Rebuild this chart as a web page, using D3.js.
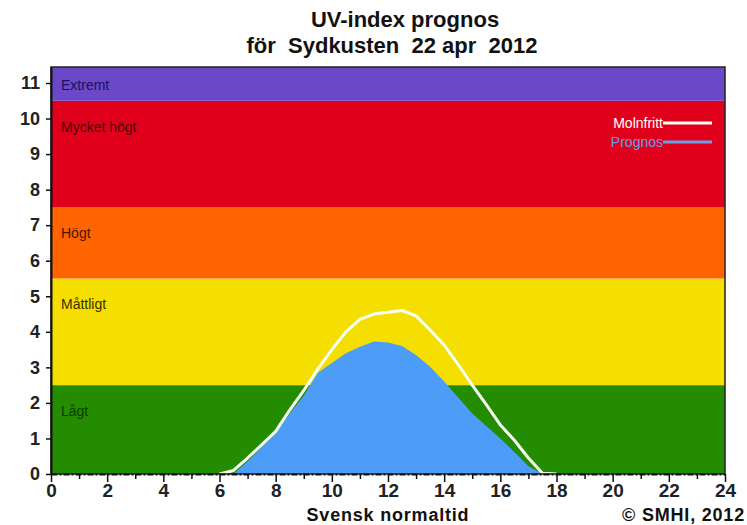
<!DOCTYPE html>
<html>
<head>
<meta charset="utf-8">
<script src="https://cdn.jsdelivr.net/npm/d3@7"></script>
<style>
  body { margin: 0; background: #fff; }
  svg { display: block; }
  .title { white-space: pre; }
</style>
</head>
<body>
<svg id="chart" width="747" height="525"></svg>
<script>
// UV-index levels
const bandNames = ['Lågt', 'Måttligt', 'Högt', 'Mycket högt', 'Extremt'];
const bandFrom = [0, 2.5, 5.5, 7.5, 10.5];
const bandTo = [2.5, 5.5, 7.5, 10.5, 11.45];

// hours (svensk normaltid)
const clearHours = [6, 6.5, 7, 7.5, 8, 8.5, 9, 9.5, 10, 10.5, 11, 11.5, 12, 12.5, 13, 13.5, 14, 14.5, 15, 15.5, 16, 16.5, 17, 17.5, 18];
const clearUv = [0, 0.1, 0.45, 0.82, 1.2, 1.8, 2.35, 2.95, 3.5, 4.0, 4.35, 4.5, 4.55, 4.6, 4.45, 4.05, 3.63, 3.08, 2.5, 1.95, 1.38, 0.95, 0.45, 0.02, 0];

const progHours = [6.5, 7, 7.5, 8, 8.5, 9, 9.5, 10, 10.5, 11, 11.5, 12, 12.5, 13, 13.5, 14, 14.5, 15, 15.5, 16, 16.5, 17, 17.5];
const progUv = [0, 0.35, 0.75, 1.15, 1.7, 2.2, 2.85, 3.12, 3.4, 3.58, 3.73, 3.7, 3.6, 3.35, 3.02, 2.6, 2.15, 1.7, 1.35, 1.0, 0.62, 0.22, 0];

const yTicks = d3.range(0, 12);
const xTicks = d3.range(0, 25);

const bandColors = ['#238c00', '#f5df00', '#ff6400', '#e0001c', '#6a48c8'];
const bandTextColors = ['#0d3d00', '#3a3000', '#4a1500', '#4a0008', '#1c1060'];

const svg = d3.select('#chart');
const x = d3.scaleLinear().domain([0, 24]).range([51, 725]);
const y = d3.scaleLinear().domain([0, 11.45]).range([474, 67]);

// title
const title = svg.append('text')
  .classed('title', true)
  .attr('text-anchor', 'middle')
  .attr('font-family', '"Liberation Sans Narrow", "Arial Narrow", "Liberation Sans", sans-serif')
  .attr('font-weight', 'bold')
  .attr('font-size', 22)
  .attr('fill', '#111');
title.append('tspan').attr('x', 405).attr('y', 27).text('UV-index prognos');
title.append('tspan').attr('x', 392).attr('y', 53).text('för  Sydkusten  22 apr  2012');

// bands
const bands = bandNames.map((name, i) => ({ name, from: bandFrom[i], to: bandTo[i], i }));

svg.append('g').selectAll('rect')
  .data(bands)
  .join('rect')
  .attr('x', x(0))
  .attr('width', x(24) - x(0))
  .attr('y', d => y(d.to))
  .attr('height', d => y(d.from) - y(d.to))
  .attr('fill', d => bandColors[d.i]);

svg.append('g').selectAll('text')
  .data(bands)
  .join('text')
  .attr('x', x(0) + 10)
  .attr('y', d => y(Math.min(d.to, 10.5)) + (d.i === 4 ? -11 : 31))
  .attr('font-family', '"Liberation Sans", Arial, sans-serif')
  .attr('font-size', 14)
  .attr('fill', d => bandTextColors[d.i])
  .text(d => d.name);

// prognos area
const area = d3.area()
  .x((d, i) => x(progHours[i]))
  .y0(y(0))
  .y1(d => y(d));

svg.append('path')
  .datum(progUv)
  .attr('d', area)
  .attr('fill', '#4d9cf8');

// molnfritt line
const line = d3.line()
  .x((d, i) => x(clearHours[i]))
  .y(d => y(d));

svg.append('path')
  .datum(clearUv)
  .attr('d', line)
  .attr('fill', 'none')
  .attr('stroke', '#f6fff2')
  .attr('stroke-width', 3)
  .attr('stroke-linejoin', 'round');

// frame
svg.append('rect')
  .attr('x', x(0))
  .attr('y', y(11.45))
  .attr('width', x(24) - x(0))
  .attr('height', y(0) - y(11.45))
  .attr('fill', 'none')
  .attr('stroke', '#222')
  .attr('stroke-width', 1.5);

// axes
const yAxis = svg.append('g')
  .attr('transform', `translate(${x(0)},0)`)
  .call(d3.axisLeft(y).tickValues(yTicks).tickSize(5).tickSizeOuter(0).tickPadding(6));

yAxis.select('.domain').attr('stroke', '#111').attr('stroke-width', 2);
yAxis.selectAll('.tick line').attr('stroke', '#111').attr('stroke-width', 1.5);
yAxis.selectAll('.tick text')
  .attr('font-family', '"Liberation Sans", Arial, sans-serif')
  .attr('font-weight', 'bold')
  .attr('font-size', 18)
  .attr('fill', '#222');

const xAxis = svg.append('g')
  .attr('transform', `translate(0,${y(0)})`)
  .call(d3.axisBottom(x).tickValues(xTicks).tickSize(8).tickSizeOuter(0).tickPadding(2)
    .tickFormat(d => (d % 2 ? '' : d)));

xAxis.select('.domain')
  .attr('stroke', '#111')
  .attr('stroke-width', 2)
  .attr('stroke-dasharray', '6,2,2,2');
xAxis.selectAll('.tick line')
  .attr('stroke', '#111')
  .attr('stroke-width', 1.5)
  .attr('y2', d => (d % 2 ? 5 : 8));
xAxis.selectAll('.tick text')
  .attr('font-family', '"Liberation Sans", Arial, sans-serif')
  .attr('font-weight', 'bold')
  .attr('font-size', 19)
  .attr('fill', '#222');

svg.append('text')
  .attr('x', 388)
  .attr('y', 521)
  .attr('text-anchor', 'middle')
  .attr('font-family', '"Liberation Sans", Arial, sans-serif')
  .attr('font-weight', 'bold')
  .attr('font-size', 18)
  .attr('letter-spacing', 0.8)
  .attr('fill', '#111')
  .text('Svensk normaltid');

svg.append('text')
  .attr('x', 745)
  .attr('y', 521)
  .attr('text-anchor', 'end')
  .attr('font-family', '"Liberation Sans", Arial, sans-serif')
  .attr('font-weight', 'bold')
  .attr('font-size', 18)
  .attr('letter-spacing', 0.8)
  .attr('fill', '#111')
  .text('© SMHI, 2012');

// legend
const legendNames = ['Molnfritt', 'Prognos'];
const legendColors = ['#f6fff2', '#6a9ee6'];
const legend = svg.append('g').selectAll('g')
  .data(legendNames)
  .join('g')
  .attr('transform', (d, i) => `translate(0,${128 + i * 19})`);

legend.append('text')
  .attr('x', 663)
  .attr('text-anchor', 'end')
  .attr('font-family', '"Liberation Sans", Arial, sans-serif')
  .attr('font-size', 14)
  .attr('fill', (d, i) => legendColors[i])
  .text(d => d);

legend.append('line')
  .attr('x1', 663)
  .attr('x2', 712)
  .attr('y1', -5)
  .attr('y2', -5)
  .attr('stroke', (d, i) => legendColors[i])
  .attr('stroke-width', 3);
</script>
</body>
</html>
